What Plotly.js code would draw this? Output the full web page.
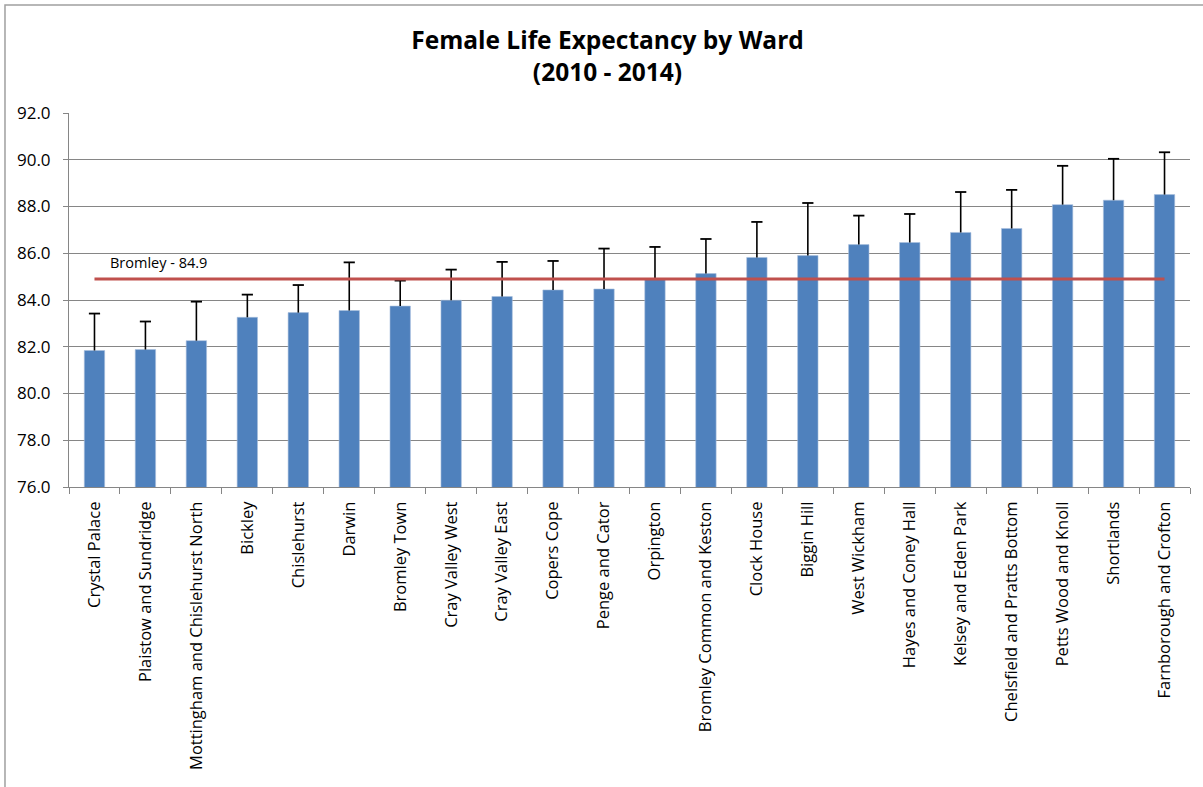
<!DOCTYPE html>
<html>
<head>
<meta charset="utf-8">
<script src="https://cdn.plot.ly/plotly-3.0.1.min.js"></script>
<style>html,body{margin:0;padding:0;background:#fff;}#chart{width:1203px;height:787px;}</style>
</head>
<body>
<div id="chart"></div>
<script>
const wards = ["Crystal Palace","Plaistow and Sundridge","Mottingham and Chislehurst North","Bickley","Chislehurst","Darwin","Bromley Town","Cray Valley West","Cray Valley East","Copers Cope","Penge and Cator","Orpington","Bromley Common and Keston","Clock House","Biggin Hill","West Wickham","Hayes and Coney Hall","Kelsey and Eden Park","Chelsfield and Pratts Bottom","Petts Wood and Knoll","Shortlands","Farnborough and Crofton"];
const lifeExpectancy = [81.84,81.88,82.26,83.26,83.46,83.55,83.74,83.99,84.15,84.43,84.47,84.90,85.13,85.82,85.90,86.37,86.46,86.89,87.06,88.08,88.27,88.51];
const upperCI = [83.42,83.08,83.93,84.23,84.64,85.61,84.83,85.30,85.63,85.67,86.20,86.27,86.61,87.34,88.15,87.61,87.68,88.62,88.71,89.74,90.04,90.32];
const bromleyAverage = 84.9;
const yTickValues = [76,78,80,82,84,86,88,90,92];

const errPlus = upperCI.map((u,i)=>+(u-lifeExpectancy[i]).toFixed(2));
const errMinus = lifeExpectancy.map(()=>0);

const font = "'Open Sans', 'Liberation Sans', sans-serif";

const traces = [
  {
    type:'bar', x:wards, y:lifeExpectancy, name:'Female life expectancy',
    marker:{color:'#4F81BD', line:{color:'#A9C0DE', width:0.6}},
    error_y:{type:'data', symmetric:false, array:errPlus, arrayminus:errMinus, width:0, thickness:1.6, color:'#000000'},
    hoverinfo:'x+y'
  },
  {
    type:'scatter', mode:'markers', x:wards, y:upperCI, name:'Upper CI',
    marker:{symbol:'line-ew', size:8, color:'#000000', line:{color:'#000000', width:1.8}},
    hoverinfo:'skip'
  },
  {
    type:'scatter', mode:'lines', x:[wards[0], wards[wards.length-1]], y:[bromleyAverage, bromleyAverage],
    name:'Bromley', line:{color:'#C0504D', width:3}, hoverinfo:'y'
  }
];

const layout = {
  width:1203, height:787,
  margin:{l:69, r:13, t:113, b:300, pad:0},
  paper_bgcolor:'#ffffff', plot_bgcolor:'#ffffff',
  showlegend:false,
  bargap:0.6,
  font:{family:font, color:'#000000'},
  title:{text:'<b>Female Life Expectancy by Ward</b><br><b>(2010 - 2014)</b>', font:{family:font, size:24.5, color:'#000000'}, x:0.505, xanchor:'center', y:1-49/787, yanchor:'middle'},
  xaxis:{
    type:'category', range:[-0.5, wards.length-0.5],
    tickangle:-90, tickfont:{family:font, size:16.5, color:'#000000'},
    showline:true, linecolor:'#868686', linewidth:1,
    ticks:'outside', ticklen:6, tickcolor:'#868686', tickson:'boundaries',
    ticklabelstandoff:7,
    showgrid:false, zeroline:false, fixedrange:true
  },
  yaxis:{
    range:[76,92], tickvals:yTickValues, tickformat:'.1f',
    tickfont:{family:font, size:17, color:'#000000'},
    showline:true, linecolor:'#868686', linewidth:1,
    ticks:'outside', ticklen:5, tickcolor:'#868686',
    ticklabelstandoff:9,
    showgrid:true, gridcolor:'#868686', gridwidth:1, zeroline:false, fixedrange:true
  },
  annotations:[
    {xref:'paper', yref:'y', x:(108-69)/1121, y:85.6, xanchor:'left', yanchor:'middle', showarrow:false,
     text:'Bromley - '+bromleyAverage.toFixed(1), font:{family:font, size:14.5, color:'#000000'}}
  ],
  shapes:[
    {type:'path', xref:'paper', yref:'paper', path:'M -0.0571,-0.85 L -0.0571,1.2888 L 1.05,1.2888', line:{color:'#A0A0A0', width:1.5}}
  ]
};

Plotly.newPlot('chart', traces, layout, {displayModeBar:false, staticPlot:true});
</script>
</body>
</html>
